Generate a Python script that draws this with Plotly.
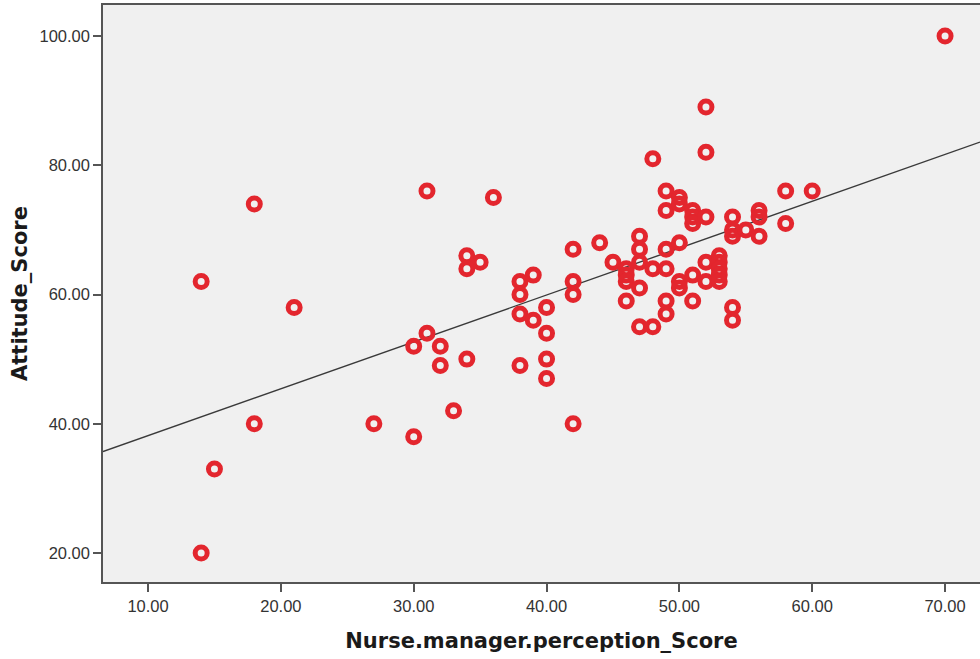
import numpy as np
import plotly.graph_objects as go

nurse_manager_score = [
    14, 18, 21, 18, 15, 14, 27, 70,
    31, 36, 34, 35, 34, 38, 39, 38, 38, 39, 40, 40, 40, 40, 42, 42, 42, 42,
    31, 30, 32, 32, 34, 38, 33, 30,
    44, 45,
    46, 46, 46, 46,
    47, 47, 47, 47, 47,
    48, 48, 48,
    49, 49, 49, 49, 49, 49,
    50, 50, 50, 50, 50,
    51, 51, 51, 51, 51,
    52, 52, 52, 52, 52,
    53, 53, 53, 53, 53,
    54, 54, 54, 54, 54,
    55,
    56, 56, 56,
    58, 58,
    60,
]
attitude_score = [
    62, 74, 58, 40, 33, 20, 40, 100,
    76, 75, 66, 65, 64, 62, 63, 60, 57, 56, 58, 54, 50, 47, 67, 62, 60, 40,
    54, 52, 52, 49, 50, 49, 42, 38,
    68, 65,
    64, 63, 62, 59,
    69, 67, 65, 61, 55,
    81, 64, 55,
    76, 73, 67, 64, 59, 57,
    75, 74, 68, 62, 61,
    73, 72, 71, 63, 59,
    89, 82, 72, 65, 62,
    66, 65, 64, 63, 62,
    72, 70, 69, 58, 56,
    70,
    73, 72, 69,
    76, 71,
    76,
]

# Fit line (total-sample linear fit)
fit_intercept = 30.9
fit_slope = 0.7255

x_ticks = [10, 20, 30, 40, 50, 60, 70]
y_ticks = [20, 40, 60, 80, 100]
x_range = [6.61, 72.63]
y_range = [15.51, 104.8]

line_x = np.array(x_range)
line_y = fit_intercept + fit_slope * line_x

fig = go.Figure()
fig.add_trace(go.Scatter(
    x=line_x, y=line_y, mode="lines",
    line=dict(color="#3a3a3a", width=1.4),
    hoverinfo="skip", showlegend=False,
))
fig.add_trace(go.Scatter(
    x=nurse_manager_score, y=attitude_score, mode="markers",
    marker=dict(symbol="circle-open", size=12, color="#E3262E",
                line=dict(width=5, color="#E3262E")),
    showlegend=False,
))

tick_font = "Liberation Sans, Arial, sans-serif"
title_font = "DejaVu Sans, Verdana, sans-serif"
fig.update_layout(
    width=980, height=659,
    margin=dict(l=103, r=0, t=5, b=77),
    paper_bgcolor="white",
    plot_bgcolor="#F0F0F0",
    font=dict(family=tick_font, color="#333333", size=17),
    xaxis=dict(
        range=x_range, tickvals=x_ticks,
        ticktext=[f"{v:.2f}" for v in x_ticks],
        showgrid=False, zeroline=False,
        showline=True, linecolor="#555555", linewidth=1.5, mirror=True,
        ticks="outside", ticklen=8, tickcolor="#555555", tickwidth=1.5,
        tickfont=dict(family=tick_font, size=16.5, color="#333333"),
        title=dict(text="<b>Nurse.manager.perception_Score</b>",
                   font=dict(family=title_font, size=21, color="#1a1a1a"),
                   standoff=20),
    ),
    yaxis=dict(
        range=y_range, tickvals=y_ticks,
        ticktext=[f"{v:.2f}" for v in y_ticks],
        showgrid=False, zeroline=False,
        showline=True, linecolor="#555555", linewidth=1.5, mirror=False,
        ticks="outside", ticklen=8, tickcolor="#555555", tickwidth=1.5,
        tickfont=dict(family=tick_font, size=16.5, color="#333333"),
        title=dict(text="<b>Attitude_Score</b>",
                   font=dict(family=title_font, size=21, color="#1a1a1a"),
                   standoff=6),
    ),
)

fig.write_html("out.html")
